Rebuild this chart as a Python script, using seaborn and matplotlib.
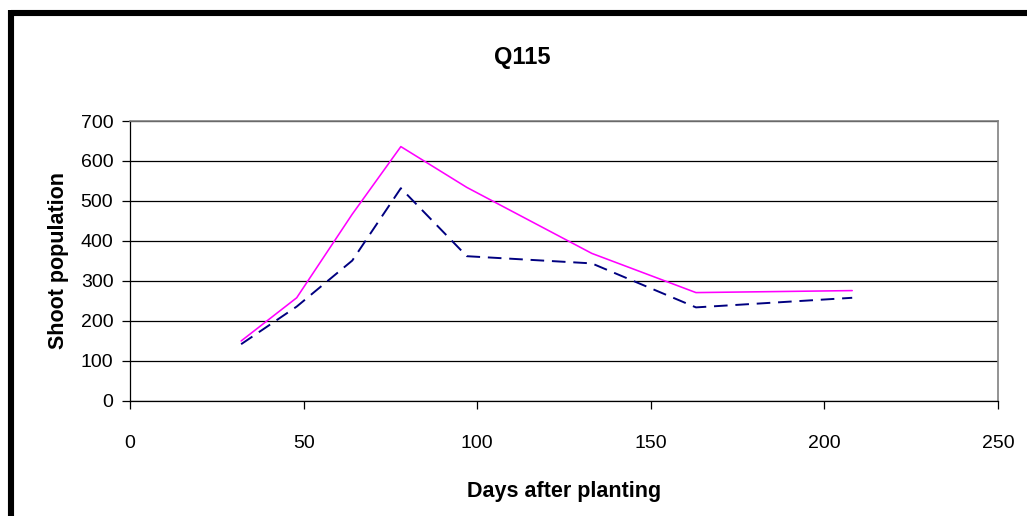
import matplotlib
matplotlib.use("Agg")
import matplotlib.pyplot as plt
from matplotlib.lines import Line2D
import seaborn as sns
import pandas as pd

# Days after planting and shoot counts for the two treatments
days = [32, 48, 64, 78, 97, 133, 163, 208]
shoots_a = [150, 258, 467, 636, 534, 369, 271, 276]
shoots_b = [142, 236, 351, 532, 362, 344, 234, 258]

x_ticks = [0, 50, 100, 150, 200, 250]
y_ticks = [0, 100, 200, 300, 400, 500, 600, 700]

sns.set_theme(style="white")
plt.rcParams["font.family"] = ["Liberation Sans", "DejaVu Sans"]

df_a = pd.DataFrame({"days": days, "shoots": shoots_a})
df_b = pd.DataFrame({"days": days, "shoots": shoots_b})

fig = plt.figure(figsize=(10.27, 5.16), dpi=100)
ax = fig.add_axes([0.1266, 0.2229, 0.9718 - 0.1266, 0.7655 - 0.2229])

sns.lineplot(data=df_a, x="days", y="shoots", ax=ax, color="#FF00FF",
             linewidth=1.15, linestyle="-")
sns.lineplot(data=df_b, x="days", y="shoots", ax=ax, color="#000080",
             linewidth=1.4, linestyle=(0, (7, 4)))

ax.set_xlim(0, 250)
ax.set_ylim(0, 700)
ax.set_xticks(x_ticks)
ax.set_yticks(y_ticks)
ax.yaxis.grid(True, color="black", linewidth=0.9)
ax.xaxis.grid(False)
ax.set_axisbelow(True)

ax.tick_params(axis="both", which="both", direction="out", length=6,
               width=0.9, color="black", labelsize=14, labelcolor="black",
               left=True, bottom=True)
ax.tick_params(axis="x", pad=18.5)
ax.tick_params(axis="y", pad=6)

for side in ("left", "bottom"):
    ax.spines[side].set_color("black")
    ax.spines[side].set_linewidth(0.9)
for side in ("top", "right"):
    ax.spines[side].set_color("#808080")
    ax.spines[side].set_linewidth(1.2)

ax.set_xlabel("Days after planting", fontsize=15.5, fontweight="bold",
              labelpad=21, color="black")
ax.set_ylabel("Shoot population", fontsize=15.5, fontweight="bold",
              labelpad=8, color="black")
fig.text(0.509, 0.888, "Q115", ha="center", va="center", fontsize=17,
         fontweight="bold", color="black")

# Heavy frame along the top and left edges of the chart
fig.add_artist(Line2D([11 / 1027, 1.0], [1 - 13 / 516, 1 - 13 / 516],
                      color="black", linewidth=4.4, solid_capstyle="butt",
                      transform=fig.transFigure))
fig.add_artist(Line2D([11 / 1027, 11 / 1027], [1 - 10 / 516, 0.0],
                      color="black", linewidth=4.4, solid_capstyle="butt",
                      transform=fig.transFigure))

fig.savefig("out.png", dpi=100, facecolor="white")
